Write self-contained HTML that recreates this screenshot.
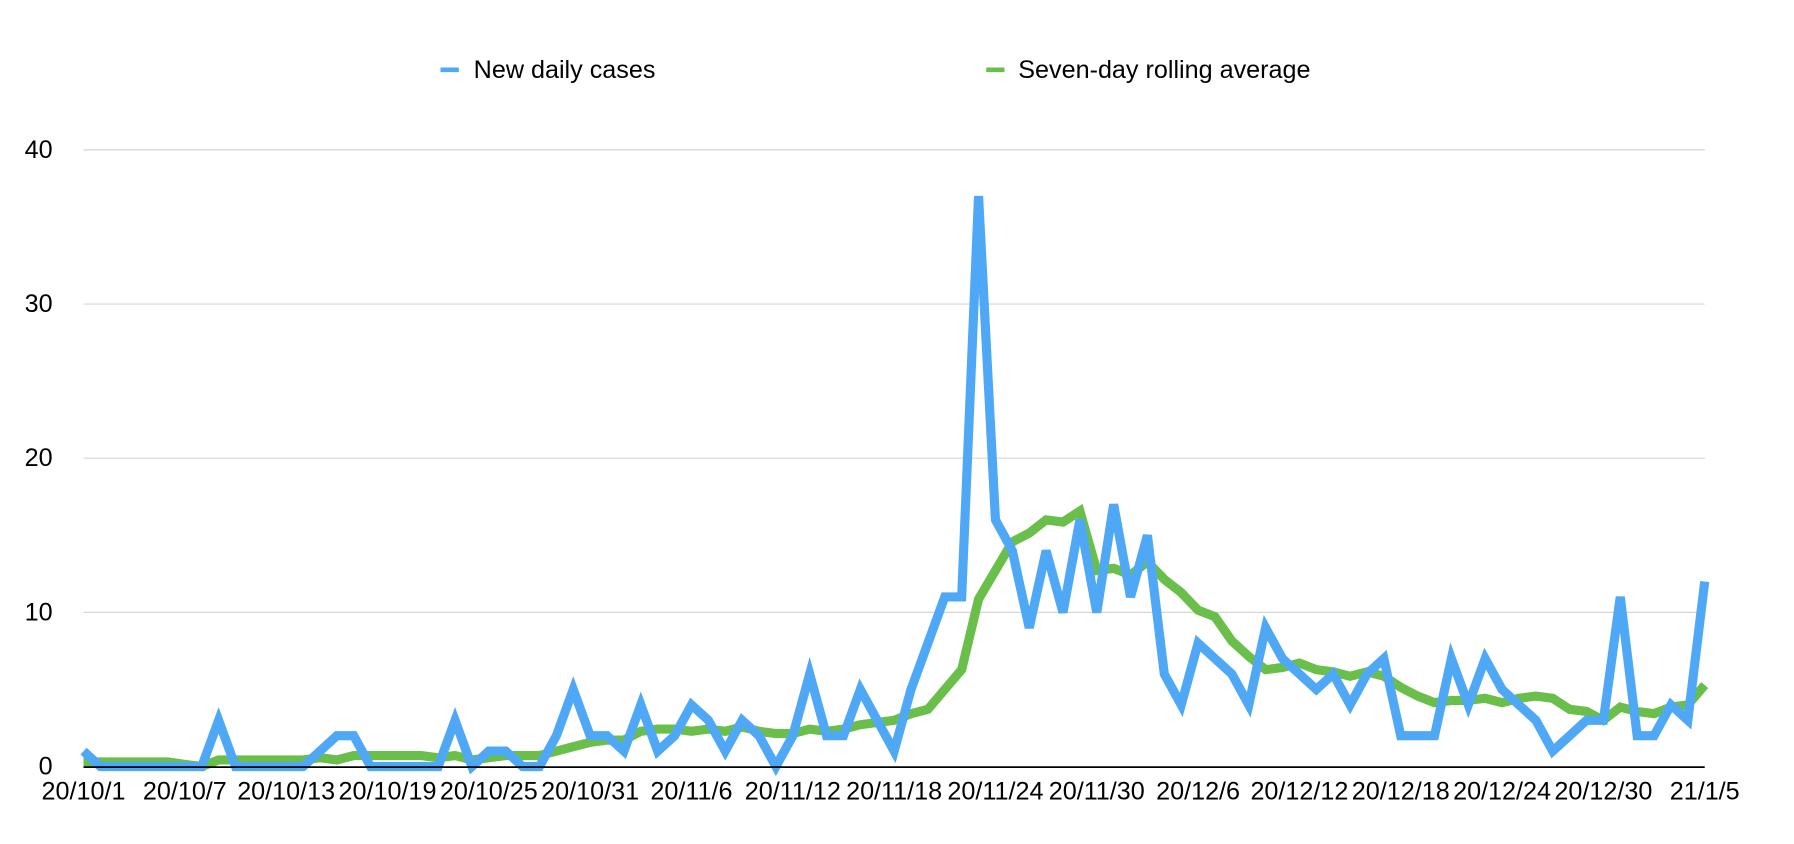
<!DOCTYPE html>
<html><head><meta charset="utf-8"><style>body{margin:0;background:#fff}svg{display:block}text{font-family:"Liberation Sans",sans-serif;font-size:22px;fill:#000}</style></head>
<body><svg width="1794" height="844" xmlns="http://www.w3.org/2000/svg"><g id="s" transform="scale(1.1441)">
<line x1="385" y1="61" x2="401" y2="61" stroke="#4fa8f5" stroke-width="4"/>
<text x="414" y="68">New daily cases</text>
<line x1="862" y1="61" x2="878" y2="61" stroke="#6abf4b" stroke-width="4"/>
<text x="890" y="68">Seven-day rolling average</text>
</g></svg>
<script>
const s=document.getElementById('s'),NS='http://www.w3.org/2000/svg';
function el(t,a,txt){const e=document.createElementNS(NS,t);for(const k in a)e.setAttribute(k,a[k]);if(txt!==undefined)e.textContent=txt;s.appendChild(e);return e;}
const d=[1,0,0,0,0,0,0,0,3,0,0,0,0,0,1,2,2,0,0,0,0,0,3,0,1,1,0,0,2,5,2,2,1,4,1,2,4,3,1,3,2,0,2,6,2,2,5,3,1,5,8,11,11,37,16,14,9,14,10,16,10,17,11,15,6,4,8,7,6,4,9,7,6,5,6,4,6,7,2,2,2,7,4,7,5,4,3,1,2,3,3,11,2,2,4,3,12];
const X=i=>73+i*(1417/96),Y=v=>670-v*13.475;
for(let v=10;v<=40;v+=10)el('line',{x1:73,x2:1490,y1:Y(v),y2:Y(v),stroke:'#d6d6d6','stroke-width':1});
for(let v=0;v<=40;v+=10)el('text',{x:46,y:Y(v)+7,'text-anchor':'end'},v);
const lab=['20/10/1','20/10/7','20/10/13','20/10/19','20/10/25','20/10/31','20/11/6','20/11/12','20/11/18','20/11/24','20/11/30','20/12/6','20/12/12','20/12/18','20/12/24','20/12/30','21/1/5'];
lab.forEach((l,k)=>el('text',{x:X(k*6),y:699,'text-anchor':'middle'},l));
const avg=d.map((v,i)=>{let a=0;for(let j=i-6;j<=i;j++)a+=j>=0?d[j]:0;return a/7;});
for(let i=0;i<6;i++)avg[i]=0.3;
el('polyline',{points:avg.map((v,i)=>X(i)+','+Y(v)).join(' '),fill:'none',stroke:'#6abf4b','stroke-width':8,'stroke-linejoin':'miter'});
el('polyline',{points:d.map((v,i)=>X(i)+','+Y(v)).join(' '),fill:'none',stroke:'#4fa8f5','stroke-width':8,'stroke-linejoin':'miter'});
el('line',{x1:73,x2:1490,y1:670.5,y2:670.5,stroke:'#000','stroke-width':1.5});
</script></body></html>
